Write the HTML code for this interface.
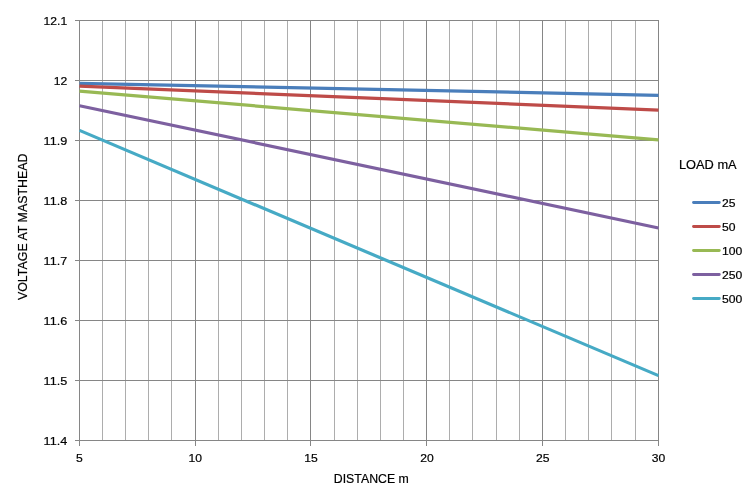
<!DOCTYPE html>
<html lang="en"><head><meta charset="utf-8"><title>Voltage at masthead vs distance</title>
<style>
html,body{margin:0;padding:0;background:#fff;}
body{width:756px;height:501px;overflow:hidden;}
svg{display:block;}
text{font-family:"Liberation Sans",sans-serif;font-size:11.6px;fill:#000;stroke:#000;stroke-width:0.2px;}
text.t{font-size:13px;}
text.v{font-size:13.4px;}
</style></head><body>
<svg width="756" height="501" viewBox="0 0 756 501">
<rect x="0" y="0" width="756" height="501" fill="#ffffff"/>

<g shape-rendering="crispEdges" stroke-width="1" fill="none">
<line x1="79.5" y1="20" x2="79.5" y2="446" stroke="#868686"/>
<line x1="102.5" y1="20" x2="102.5" y2="441" stroke="#adadad"/>
<line x1="125.5" y1="20" x2="125.5" y2="441" stroke="#adadad"/>
<line x1="148.5" y1="20" x2="148.5" y2="441" stroke="#adadad"/>
<line x1="171.5" y1="20" x2="171.5" y2="441" stroke="#adadad"/>
<line x1="195.5" y1="20" x2="195.5" y2="446" stroke="#868686"/>
<line x1="218.5" y1="20" x2="218.5" y2="441" stroke="#adadad"/>
<line x1="241.5" y1="20" x2="241.5" y2="441" stroke="#adadad"/>
<line x1="264.5" y1="20" x2="264.5" y2="441" stroke="#adadad"/>
<line x1="287.5" y1="20" x2="287.5" y2="441" stroke="#adadad"/>
<line x1="310.5" y1="20" x2="310.5" y2="446" stroke="#868686"/>
<line x1="334.5" y1="20" x2="334.5" y2="441" stroke="#adadad"/>
<line x1="357.5" y1="20" x2="357.5" y2="441" stroke="#adadad"/>
<line x1="380.5" y1="20" x2="380.5" y2="441" stroke="#adadad"/>
<line x1="403.5" y1="20" x2="403.5" y2="441" stroke="#adadad"/>
<line x1="426.5" y1="20" x2="426.5" y2="446" stroke="#868686"/>
<line x1="449.5" y1="20" x2="449.5" y2="441" stroke="#adadad"/>
<line x1="472.5" y1="20" x2="472.5" y2="441" stroke="#adadad"/>
<line x1="496.5" y1="20" x2="496.5" y2="441" stroke="#adadad"/>
<line x1="519.5" y1="20" x2="519.5" y2="441" stroke="#adadad"/>
<line x1="542.5" y1="20" x2="542.5" y2="446" stroke="#868686"/>
<line x1="565.5" y1="20" x2="565.5" y2="441" stroke="#adadad"/>
<line x1="588.5" y1="20" x2="588.5" y2="441" stroke="#adadad"/>
<line x1="611.5" y1="20" x2="611.5" y2="441" stroke="#adadad"/>
<line x1="635.5" y1="20" x2="635.5" y2="441" stroke="#adadad"/>
<line x1="658.5" y1="20" x2="658.5" y2="446" stroke="#868686"/>
<line x1="75" y1="20.5" x2="659" y2="20.5" stroke="#868686"/>
<line x1="75" y1="80.5" x2="659" y2="80.5" stroke="#868686"/>
<line x1="75" y1="140.5" x2="659" y2="140.5" stroke="#868686"/>
<line x1="75" y1="200.5" x2="659" y2="200.5" stroke="#868686"/>
<line x1="75" y1="260.5" x2="659" y2="260.5" stroke="#868686"/>
<line x1="75" y1="320.5" x2="659" y2="320.5" stroke="#868686"/>
<line x1="75" y1="380.5" x2="659" y2="380.5" stroke="#868686"/>
<line x1="75" y1="440.5" x2="659" y2="440.5" stroke="#868686"/>
</g>
<g fill="none" stroke-width="3.2" stroke-linecap="butt">
<line x1="79.5" y1="83.30" x2="658.5" y2="95.30" stroke="#4a7ebb"/>
<line x1="79.5" y1="86.10" x2="658.5" y2="110.10" stroke="#be4b48"/>
<line x1="79.5" y1="91.05" x2="658.5" y2="139.90" stroke="#98b954"/>
<line x1="79.5" y1="105.70" x2="658.5" y2="228.00" stroke="#7d60a0"/>
<line x1="79.5" y1="130.40" x2="658.5" y2="375.60" stroke="#46aac5"/>
</g>
<text x="67.2" y="24.6" text-anchor="end" textLength="23.64" lengthAdjust="spacingAndGlyphs">12.1</text>
<text x="67.2" y="84.6" text-anchor="end" textLength="13.51" lengthAdjust="spacingAndGlyphs">12</text>
<text x="67.2" y="144.6" text-anchor="end" textLength="23.64" lengthAdjust="spacingAndGlyphs">11.9</text>
<text x="67.2" y="204.6" text-anchor="end" textLength="23.64" lengthAdjust="spacingAndGlyphs">11.8</text>
<text x="67.2" y="264.6" text-anchor="end" textLength="23.64" lengthAdjust="spacingAndGlyphs">11.7</text>
<text x="67.2" y="324.6" text-anchor="end" textLength="23.64" lengthAdjust="spacingAndGlyphs">11.6</text>
<text x="67.2" y="384.6" text-anchor="end" textLength="23.64" lengthAdjust="spacingAndGlyphs">11.5</text>
<text x="67.2" y="444.6" text-anchor="end" textLength="23.64" lengthAdjust="spacingAndGlyphs">11.4</text>
<text x="79.5" y="462.0" text-anchor="middle" textLength="6.76" lengthAdjust="spacingAndGlyphs">5</text>
<text x="195.3" y="462.0" text-anchor="middle" textLength="13.51" lengthAdjust="spacingAndGlyphs">10</text>
<text x="311.1" y="462.0" text-anchor="middle" textLength="13.51" lengthAdjust="spacingAndGlyphs">15</text>
<text x="426.9" y="462.0" text-anchor="middle" textLength="13.51" lengthAdjust="spacingAndGlyphs">20</text>
<text x="542.7" y="462.0" text-anchor="middle" textLength="13.51" lengthAdjust="spacingAndGlyphs">25</text>
<text x="658.5" y="462.0" text-anchor="middle" textLength="13.51" lengthAdjust="spacingAndGlyphs">30</text>
<text x="371.3" y="482.6" text-anchor="middle" textLength="75.00" lengthAdjust="spacingAndGlyphs" class="t">DISTANCE m</text>
<text class="v" transform="translate(27.2,226.8) rotate(-90)" text-anchor="middle" textLength="146.6" lengthAdjust="spacingAndGlyphs">VOLTAGE AT MASTHEAD</text>
<text x="679" y="168.6" text-anchor="start" textLength="57.60" lengthAdjust="spacingAndGlyphs" class="t">LOAD mA</text>
<line x1="693.5" y1="202.5" x2="719.3" y2="202.5" stroke="#4a7ebb" stroke-width="2.8" stroke-linecap="round"/>
<text x="722" y="206.9" text-anchor="start" textLength="13.51" lengthAdjust="spacingAndGlyphs">25</text>
<line x1="693.5" y1="226.5" x2="719.3" y2="226.5" stroke="#be4b48" stroke-width="2.8" stroke-linecap="round"/>
<text x="722" y="230.9" text-anchor="start" textLength="13.51" lengthAdjust="spacingAndGlyphs">50</text>
<line x1="693.5" y1="250.5" x2="719.3" y2="250.5" stroke="#98b954" stroke-width="2.8" stroke-linecap="round"/>
<text x="722" y="254.9" text-anchor="start" textLength="20.27" lengthAdjust="spacingAndGlyphs">100</text>
<line x1="693.5" y1="274.5" x2="719.3" y2="274.5" stroke="#7d60a0" stroke-width="2.8" stroke-linecap="round"/>
<text x="722" y="278.9" text-anchor="start" textLength="20.27" lengthAdjust="spacingAndGlyphs">250</text>
<line x1="693.5" y1="298.5" x2="719.3" y2="298.5" stroke="#46aac5" stroke-width="2.8" stroke-linecap="round"/>
<text x="722" y="302.9" text-anchor="start" textLength="20.27" lengthAdjust="spacingAndGlyphs">500</text>
</svg>
</body></html>
